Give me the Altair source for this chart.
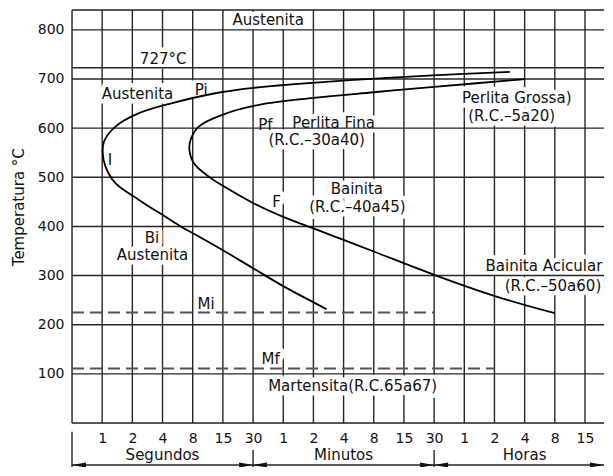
import altair as alt
import pandas as pd

# ---------------- data ----------------
# time axis: evenly spaced columns (index), labelled on a doubling time grid
time_tick_pos = list(range(1, 18))
time_tick_labels = ["1", "2", "4", "8", "15", "30",
                    "1", "2", "4", "8", "15", "30",
                    "1", "2", "4", "8", "15"]
x_max = 17.63
vgrid_pos = list(range(0, 18))

temp_ticks = [100, 200, 300, 400, 500, 600, 700, 800]
temp_top = 840.4
eutectoid_line = 723

# martensite start / finish (dashed)
mart_temp = [225, 111]
mart_end = [12, 14]

# start of transformation curve (Pi ... I ... Bi)
pi_idx = [14.51, 11.96, 9.21, 7.5, 6.0, 4.75, 3.32, 2.22, 1.44, 1.06, 1.02, 1.11,
          1.44, 2.22, 3.10, 3.6, 4.1, 5.0, 6.0, 7.0, 8.44]
pi_temp = [714.5, 707.5, 697.5, 690.0, 682.0, 671.0, 650.8, 630.4, 603.2, 572.6,
           549.0, 521.8, 488.0, 454.0, 419.5, 400.0, 383.0, 351.5, 315.0, 278.5, 231.6]

# end of transformation curve (Pf ... F)
pf_idx = [15.01, 12.0, 10.0, 8.0, 6.2, 5.0, 4.2, 3.93, 3.89, 4.04, 4.53, 5.1,
          6.01, 7.0, 8.0, 9.0, 10.0, 12.0, 14.07, 16.0]
pf_temp = [699.6, 684.0, 673.0, 661.5, 647.5, 627.5, 603.2, 576.1, 555.8, 528.7,
           501.4, 479.0, 447.3, 419.5, 396.0, 372.5, 349.0, 301.5, 257.2, 223.4]

label_text = ["Austenita", "727°C", "Austenita", "Pi", "I", "Pf", "Perlita  Fina",
              "(R.C.–30a40)", "Perlita  Grossa)", "(R.C.–5a20)", "Bainita",
              "(R.C.–40a45)", "F", "Bi", "Austenita", "Mi", "Mf",
              "Martensita(R.C.65a67)", "Bainita  Acicular", "(R.C.–50a60)"]
label_idx = [6.50, 3.02, 2.17, 4.28, 1.26, 6.41, 8.67, 8.11, 14.74, 14.57, 9.44,
             9.46, 6.78, 2.65, 2.67, 4.44, 6.58, 9.30, 15.64, 15.94]
label_temp = [820, 741, 669.5, 677.6, 535, 606.4, 610.5, 575.9, 662.0, 624.0, 476.2,
              439.5, 450.7, 377, 342, 242, 130, 74.3, 318.5, 277.8]

units = ["Segundos", "Minutos", "Horas"]
unit_start = [0, 6, 12]
unit_end = [6, 12, x_max]
unit_mid = [3, 9, 15]

# ---------------- frames ----------------
vgrid_df = pd.DataFrame({"idx": vgrid_pos, "lo": 0, "hi": temp_top})
hgrid_df = pd.DataFrame({"temp": [0] + temp_ticks + [eutectoid_line, temp_top],
                         "lo": 0, "hi": x_max})
mart_df = pd.DataFrame({"temp": mart_temp, "lo": 0, "hi": mart_end})
curve_df = pd.concat([
    pd.DataFrame({"curve": "Pi", "idx": pi_idx, "temp": pi_temp, "ord": range(len(pi_idx))}),
    pd.DataFrame({"curve": "Pf", "idx": pf_idx, "temp": pf_temp, "ord": range(len(pf_idx))}),
])
label_df = pd.DataFrame({"text": label_text, "idx": label_idx, "temp": label_temp})
unit_df = pd.DataFrame({"unit": units, "start": unit_start, "end": unit_end,
                        "mid": unit_mid})

FONT = "DejaVu Sans"
INK = "#111111"
GRID = "#262626"

xscale = alt.Scale(domain=[0, x_max], nice=False, zero=False)
yscale = alt.Scale(domain=[0, temp_top], nice=False, zero=False)
label_expr = "[" + ",".join(["''"] + ["'%s'" % t for t in time_tick_labels]) + "][datum.value]"
xaxis = alt.Axis(values=time_tick_pos, labelExpr=label_expr, title=None, domain=False,
                 ticks=False, grid=False, labelFontSize=14, labelPadding=15,
                 labelBaseline="middle", labelColor=INK, labelFont=FONT,
                 labelFlush=False, labelOverlap=False)
yaxis = alt.Axis(values=temp_ticks, title="Temperatura °C", domain=False, ticks=False,
                 grid=False, labelFontSize=14, labelPadding=8, labelColor=INK,
                 labelFont=FONT, labelFlush=False, labelOverlap=False,
                 titleFont=FONT, titleFontSize=15, titleFontWeight="normal",
                 titleColor=INK, titleX=-54, titleY=196.7, titleAngle=270,
                 titleBaseline="middle", titleAlign="center")


def X(f):
    return alt.X(f, type="quantitative", scale=xscale, axis=xaxis)


def Y(f):
    return alt.Y(f, type="quantitative", scale=yscale, axis=yaxis)


vgrid = alt.Chart(vgrid_df).mark_rule(color=GRID, strokeWidth=1.4).encode(
    x=X("idx"), y=Y("lo"), y2="hi")

halo = alt.Chart(label_df).mark_text(font=FONT, fontSize=15, color="white",
                                     stroke="white", strokeWidth=9,
                                     strokeJoin="round", baseline="middle").encode(
    x=X("idx"), y=Y("temp"), text="text")

hgrid = alt.Chart(hgrid_df).mark_rule(color=GRID, strokeWidth=1.4).encode(
    x=X("lo"), x2="hi", y=Y("temp"))

mart = alt.Chart(mart_df).mark_rule(color="#555555", strokeWidth=2,
                                    strokeDash=[12, 6]).encode(
    x=X("lo"), x2="hi", y=Y("temp"))

curves = alt.Chart(curve_df).mark_line(color="#000000", strokeWidth=1.8,
                                       interpolate="catmull-rom").encode(
    x=X("idx"), y=Y("temp"), order="ord:Q", detail="curve:N")

labels = alt.Chart(label_df).mark_text(font=FONT, fontSize=15, color=INK,
                                       baseline="middle").encode(
    x=X("idx"), y=Y("temp"), text="text")

left_bar = alt.Chart(unit_df.head(1)).mark_rule(color=GRID, strokeWidth=1.4).encode(
    x=X("start"), y=alt.value(421.7), y2=alt.value(460))
sep_bar = alt.Chart(unit_df.iloc[1:]).mark_rule(color=GRID, strokeWidth=1.4).encode(
    x=X("start"), y=alt.value(440), y2=alt.value(460))
arrow_line = alt.Chart(unit_df).mark_rule(color=GRID, strokeWidth=1.4).encode(
    x=X("start"), x2="end", y=alt.value(455))
head_left = alt.Chart(unit_df).mark_point(shape="M0,0L2,-0.36L2,0.36Z", size=196,
                                          filled=True, color=INK, opacity=1,
                                          strokeWidth=0).encode(
    x=X("start"), y=alt.value(455))
head_right = alt.Chart(unit_df).mark_point(shape="M0,0L-2,-0.36L-2,0.36Z", size=196,
                                           filled=True, color=INK, opacity=1,
                                           strokeWidth=0).encode(
    x=X("end"), y=alt.value(455))
unit_labels = alt.Chart(unit_df).mark_text(font=FONT, fontSize=15, color=INK,
                                           baseline="middle").encode(
    x=X("mid"), y=alt.value(445), text="unit")

chart = alt.layer(vgrid, halo, hgrid, mart, curves, labels, left_bar, sep_bar,
                  arrow_line, head_left, head_right, unit_labels).properties(
    width=532, height=413,
    autosize=alt.AutoSizeParams(type="none"),
    padding={"left": 64, "top": 2, "right": 0, "bottom": 44},
    background="white",
).configure_view(strokeWidth=0).configure(font=FONT)

chart.save("out.html", embed_options={"renderer": "svg", "actions": False})
